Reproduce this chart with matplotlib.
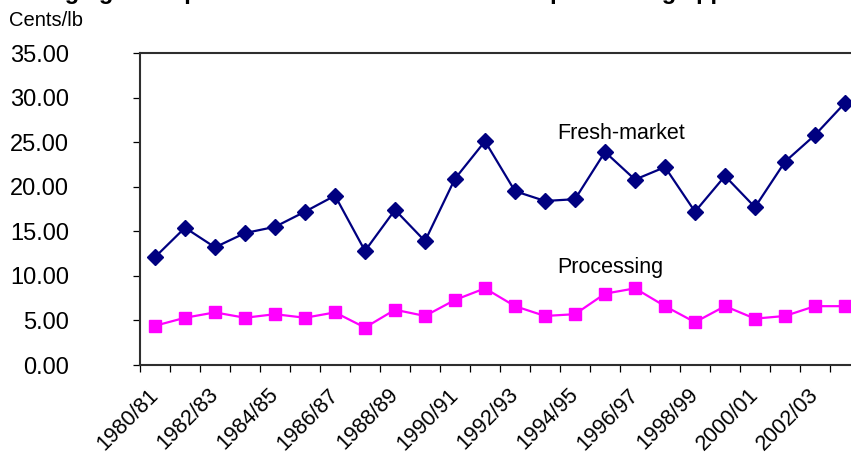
import matplotlib.pyplot as plt

plt.rcParams['font.family'] = ['Liberation Sans', 'DejaVu Sans']

# Average grower prices, cents per pound, by crop year
seasons = ['1980/81', '1981/82', '1982/83', '1983/84', '1984/85', '1985/86',
           '1986/87', '1987/88', '1988/89', '1989/90', '1990/91', '1991/92',
           '1992/93', '1993/94', '1994/95', '1995/96', '1996/97', '1997/98',
           '1998/99', '1999/00', '2000/01', '2001/02', '2002/03', '2003/04']
fresh_market = [12.1, 15.4, 13.2, 14.8, 15.5, 17.2, 19.0, 12.8, 17.4, 13.9,
                20.9, 25.1, 19.5, 18.4, 18.6, 23.9, 20.8, 22.2, 17.2, 21.2,
                17.7, 22.8, 25.8, 29.4]
processing = [4.4, 5.3, 5.9, 5.3, 5.7, 5.3, 5.9, 4.2, 6.2, 5.5,
              7.3, 8.6, 6.6, 5.5, 5.7, 8.0, 8.6, 6.6, 4.8, 6.6,
              5.2, 5.5, 6.6, 6.6]

fig = plt.figure(figsize=(8.51, 4.54), dpi=100)
ax = fig.add_axes([140 / 851, 89 / 454, 720 / 851, 312 / 454])

x = list(range(len(seasons)))
ax.plot(x, fresh_market, color='#000080', lw=1.6, marker='D', markersize=8,
        markerfacecolor='#000080', markeredgecolor='#000080', clip_on=False)
ax.plot(x, processing, color='#ff00ff', lw=1.6, marker='s', markersize=8.5,
        markerfacecolor='#ff00ff', markeredgecolor='#ff00ff', clip_on=False)

ax.set_xlim(-0.5, len(seasons) - 0.5)
ax.set_ylim(0, 35)

# y axis
ax.set_yticks(range(0, 36, 5))
ax.set_yticklabels([f'{v:.2f}' for v in range(0, 36, 5)])
ax.tick_params(axis='y', direction='out', length=5, width=0.9, color='black',
               pad=46, labelsize=17)

# x axis: tick marks between categories, labels on every other season
ax.set_xticks([i - 0.5 for i in range(len(seasons) + 1)], minor=True)
ax.set_xticks([i - 0.23 for i in x[::2]])
ax.set_xticklabels(seasons[::2], rotation=45, ha='right', va='top',
                   rotation_mode='anchor')
ax.tick_params(axis='x', which='minor', direction='out', length=5, width=0.9,
               color='black')
ax.tick_params(axis='x', which='major', length=0, pad=14, labelsize=15.5)

for side in ['top', 'bottom', 'left', 'right']:
    ax.spines[side].set_color('#2e2e2e')
    ax.spines[side].set_linewidth(1.5)

ax.text(13.4, 25.35, 'Fresh-market', fontsize=15.5, ha='left', va='baseline')
ax.text(13.4, 10.29, 'Processing', fontsize=15.5, ha='left', va='baseline')

fig.text(9 / 851, 1 - 26 / 454, 'Cents/lb', fontsize=14.5, ha='left',
         va='baseline')
fig.text(0, 1 + 0.5 / 454,
         'Average grower prices for U.S. fresh-market and processing apples',
         fontsize=17, fontweight='bold', ha='left', va='baseline')

fig.savefig('out.png', dpi=100)
